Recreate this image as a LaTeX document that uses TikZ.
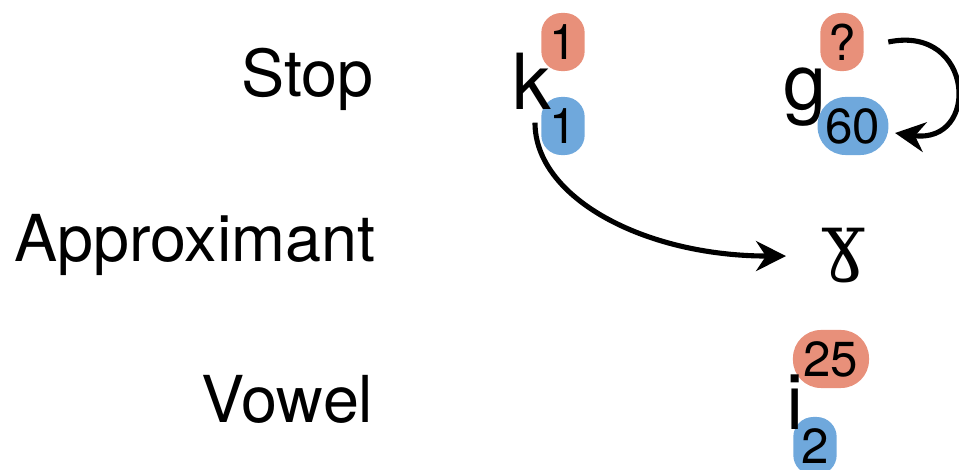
\documentclass[tikz,border=0pt]{standalone}
\usepackage{fontspec}
\setmainfont{TeX Gyre Heros}
\newfontfamily\ipafont{DejaVu Serif}
\usetikzlibrary{arrows.meta}
\definecolor{redtagfill}{RGB}{232,144,122}
\definecolor{bluetagfill}{RGB}{111,168,220}

\begin{document}
\begin{tikzpicture}[x=0.01cm, y=-0.01cm,
    row/.style = {anchor=base east, inner sep=0, font=\fontsize{18.4}{22}\selectfont},
    sym/.style = {anchor=base, inner sep=0, font=\fontsize{22}{26}\selectfont},
    tag/.style = {rounded corners=0.2cm, minimum width=0.4cm, minimum height=0.58cm,
                  inner xsep=0.08cm, inner ysep=0, font=\fontsize{14}{16}\selectfont},
    redtag/.style = {tag, fill=redtagfill},
    bluetag/.style = {tag, fill=bluetagfill},
    link/.style = {line width=1.45pt, -{Stealth[length=8.5pt, width=8.5pt, inset=2.8pt]}}]
  \useasboundingbox (0,0) rectangle (959,470);

  % row labels
  \node[row] (stop) at (374,97) {Stop};
  \node[row] (appr) at (376,262) {Approximant};
  \node[row] (vowel) at (374,423) {Vowel};

  % counts above and below each sound
  \node[redtag] (k1) at (563,42) {1};
  \node[bluetag] (k2) at (563,126) {1};
  \node[redtag] (g1) at (842,42) {?};
  \node[bluetag, rounded corners=0.28cm] (g2) at (853,126) {60};
  \node[redtag, rounded corners=0.28cm, minimum width=0.76cm] (i1) at (831,359) {25};
  \node[bluetag] (i2) at (815,446) {2};

  % sounds
  \node[sym] (k) at (532,110) {k};
  \node[sym] (g) at (805,110) {g};
  \node[sym, font=\fontsize{21}{26}\ipafont] (gam) at (844,267) {ɣ};
  \node[sym] (i) at (795,430) {i};

  \draw[link, shorten >=10pt]
    ([shift={(3,12)}]k.south) .. controls +(0,75) and +(-177,0) .. (gam.west);
  \draw[link]
    ([xshift=6.8pt]g1.east) .. controls +(86,-18) and +(86,12) .. ([shift={(6,7)}]g2.east);

\end{tikzpicture}
\end{document}
